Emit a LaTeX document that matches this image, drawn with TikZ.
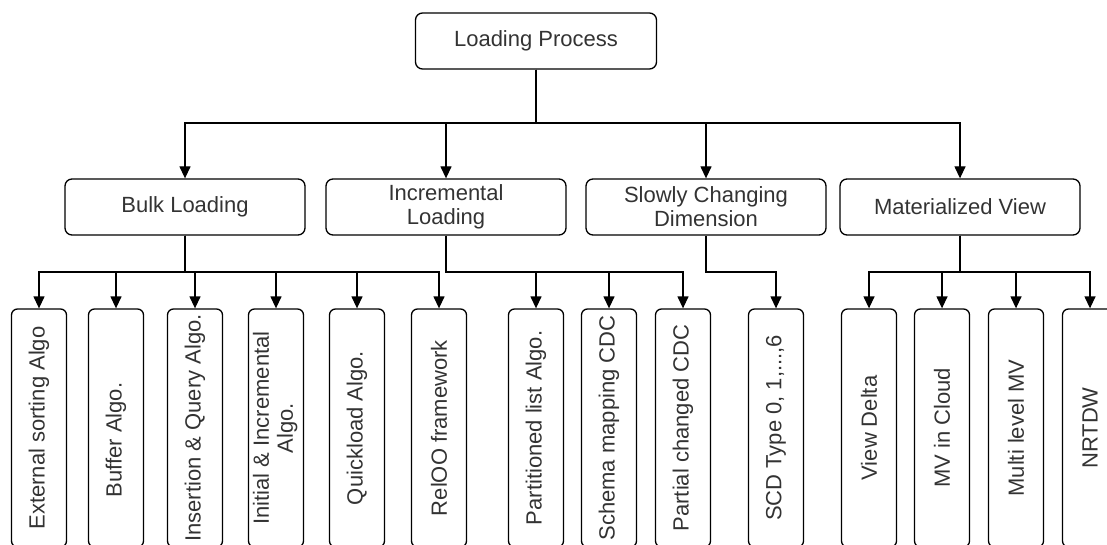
\documentclass[tikz,border=0pt]{standalone}
\usepackage{fontspec}
\setmainfont{Liberation Sans}
\usetikzlibrary{arrows.meta}
\definecolor{labelgray}{HTML}{333333}
\newcommand{\vtext}[1]{\rotatebox{90}{#1}}
\begin{document}
\begin{tikzpicture}[x=1pt,y=-1pt,
  every node/.style={font=\fontsize{22}{24}\selectfont, text=labelgray},
  headbox/.style={draw, line width=1.3pt, rounded corners=7pt, align=center,
    minimum width=240pt, minimum height=56pt, inner sep=0pt},
  leafbox/.style={draw, line width=1.3pt, rounded corners=6pt, align=center,
    minimum width=55pt, minimum height=238pt, inner sep=0pt},
  link/.style={line width=1.3pt, -{Triangle[width=11pt,length=12pt]}}]
\path[use as bounding box] (0,0) rectangle (1107,545);
\clip (0,0) rectangle (1107,545);

% root
\node[headbox, minimum width=241pt] (lp) at (536,41) {Loading Process};

% categories
\node[headbox] (bl) at (185,207) {Bulk Loading};
\node[headbox] (il) at (446,207) {Incremental\\Loading};
\node[headbox] (sc) at (706,207) {Slowly Changing\\Dimension};
\node[headbox] (mv) at (960,207) {Materialized View};

% techniques
\node[leafbox] (b1) at (39,428)   {\vtext{External sorting Algo}};
\node[leafbox] (b2) at (116,428)  {\vtext{Buffer Algo.\hspace{24pt}}};
\node[leafbox] (b3) at (195,428)  {\vtext{Insertion \& Query Algo.}};
\node[leafbox] (b4) at (276,428)  {\vtext{\begin{tabular}{@{}c@{}}Initial \& Incremental\\Algo.\end{tabular}}};
\node[leafbox] (b5) at (357,428)  {\vtext{Quickload Algo.}};
\node[leafbox] (b6) at (439,428)  {\vtext{RelOO framework}};
\node[leafbox] (i1) at (536,428)  {\vtext{Partitioned list Algo.}};
\node[leafbox] (i2) at (609,428)  {\vtext{Schema mapping CDC}};
\node[leafbox] (i3) at (683,428)  {\vtext{Partial changed CDC}};
\node[leafbox] (s1) at (776,428)  {\vtext{SCD Type 0, 1,...,6}};
\node[leafbox] (m1) at (869,428)  {\vtext{View Delta}};
\node[leafbox] (m2) at (942,428)  {\vtext{MV in Cloud}};
\node[leafbox] (m3) at (1016,428) {\vtext{Multi level MV}};
\node[leafbox] (m4) at (1090,428) {\vtext{NRTDW}};

% bus levels
\coordinate (top bus) at (0,123);
\coordinate (low bus) at (0,272);

% root to categories
\foreach \c in {bl,il,sc,mv}
  \draw[link] (lp.south) -- (lp.south |- top bus) -| (\c.north);

% categories to techniques
\foreach \c in {b1,b2,b3,b4,b5,b6}
  \draw[link] (bl.south) -- (bl.south |- low bus) -| (\c.north);
\foreach \c in {i1,i2,i3}
  \draw[link] (il.south) -- (il.south |- low bus) -| (\c.north);
\draw[link] (sc.south) -- (sc.south |- low bus) -| (s1.north);
\foreach \c in {m1,m2,m3,m4}
  \draw[link] (mv.south) -- (mv.south |- low bus) -| (\c.north);
\end{tikzpicture}
\end{document}
